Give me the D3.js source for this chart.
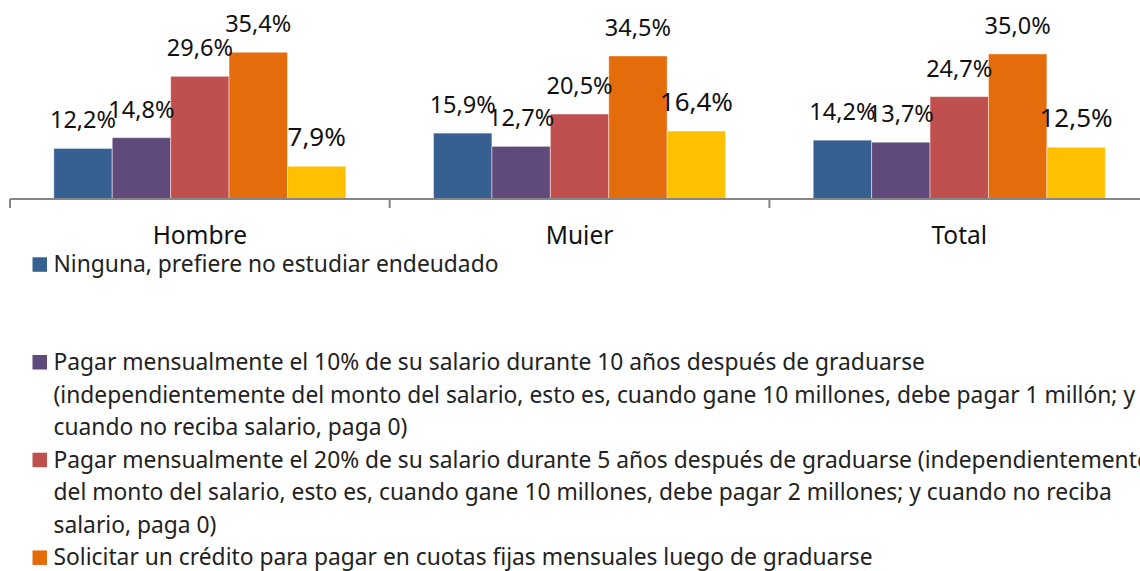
<!DOCTYPE html>
<html>
<head>
<meta charset="utf-8">
<script src="https://cdn.jsdelivr.net/npm/d3@7"></script>
<style>
  body { margin: 0; background: #fff; }
  svg { display: block; font-family: "Noto Sans", "Open Sans", sans-serif; }
</style>
</head>
<body>
<script>
// datos
var categorias = ["Hombre", "Mujer", "Total"];
var series = ["Ninguna", "Pagar10", "Pagar20", "Solicitar", "Otra"];
var ninguna   = [12.2, 15.9, 14.2];
var pagar10   = [14.8, 12.7, 13.7];
var pagar20   = [29.6, 20.5, 24.7];
var solicitar = [35.4, 34.5, 35.0];
var otra      = [7.9, 16.4, 12.5];
var colores = ["#376092", "#604a7b", "#c0504d", "#e46c0a", "#ffc000"];

// texto de la leyenda (cada entrada en sus lineas, como en el original)
var leyenda = [
  ["Ninguna, prefiere no estudiar endeudado"],
  ["Pagar mensualmente el 10% de su salario durante 10 años después de graduarse",
   "(independientemente del monto del salario, esto es, cuando gane 10 millones, debe pagar 1 millón; y",
   "cuando no reciba salario, paga 0)"],
  ["Pagar mensualmente el 20% de su salario durante 5 años después de graduarse (independientemente",
   "del monto del salario, esto es, cuando gane 10 millones, debe pagar 2 millones; y cuando no reciba",
   "salario, paga 0)"],
  ["Solicitar un crédito para pagar en cuotas fijas mensuales luego de graduarse"]
];

var valores = [ninguna, pagar10, pagar20, solicitar, otra];

var W = 1140, H = 571;
var svg = d3.select("body").append("svg").attr("width", W).attr("height", H);

// area del grafico recortada (las etiquetas de categoria salen cortadas)
svg.append("clipPath").attr("id", "corte")
  .append("rect").attr("x", 0).attr("y", 0).attr("width", W).attr("height", 245);
var g = svg.append("g").attr("clip-path", "url(#corte)");

var x0 = d3.scaleBand().domain(categorias).range([10, 10 + 3 * 379.7]);
var x1 = d3.scaleBand().domain(series).range([0, x0.bandwidth()]).paddingOuter(0.75);
var y = d3.scaleLinear().domain([0, 40]).range([199, 33.2]);

var grupos = g.selectAll("g.cat").data(categorias).enter().append("g")
  .attr("class", "cat")
  .attr("transform", function (d) { return "translate(" + x0(d) + ",0)"; });

grupos.each(function (c, ci) {
  var filas = series.map(function (s, si) { return { s: s, i: si, v: valores[si][ci] }; });
  var sel = d3.select(this);
  sel.selectAll("rect").data(filas).enter().append("rect")
    .attr("x", function (d) { return x1(d.s); })
    .attr("y", function (d) { return y(d.v); })
    .attr("width", x1.bandwidth())
    .attr("height", function (d) { return y(0) - y(d.v); })
    .attr("fill", function (d) { return colores[d.i]; })
    .attr("stroke", "rgba(255,255,255,0.45)")
    .attr("stroke-width", 1);
  sel.selectAll("text").data(filas).enter().append("text")
    .attr("x", function (d) { return x1(d.s) + x1.bandwidth() / 2; })
    .attr("y", function (d) { return y(d.v) - 20; })
    .attr("text-anchor", "middle")
    .attr("font-size", function (d) { return d.i === 4 ? 26 : 23.5; })
    .attr("fill", "#111")
    .text(function (d) { return d.v.toFixed(1).replace(".", ",") + "%"; });
});

// eje horizontal
var eje = g.append("g").attr("transform", "translate(0," + y(0) + ")");
eje.append("line")
  .attr("x1", x0.range()[0]).attr("x2", x0.range()[1])
  .attr("stroke", "#868686").attr("stroke-width", 2);
var bordes = categorias.map(function (c) { return x0(c); });
eje.selectAll("line.tick").data(bordes).enter().append("line")
  .attr("class", "tick")
  .attr("x1", function (d) { return d; }).attr("x2", function (d) { return d; })
  .attr("y1", 0).attr("y2", 9)
  .attr("stroke", "#868686").attr("stroke-width", 2);

var ejeX = d3.axisBottom(x0).tickSize(0).tickPadding(0);
var ejeG = g.append("g").attr("transform", "translate(0," + y(0) + ")").call(ejeX);
ejeG.select(".domain").remove();
ejeG.selectAll("text").attr("font-size", 24.5).attr("fill", "#111")
  .attr("font-family", "'Noto Sans', sans-serif")
  .attr("dy", null).attr("y", 45);

// leyenda
var lineaY = d3.scaleLinear().domain([0, 1]).range([272.3, 272.3 + 32.57]);
var ley = svg.append("g");
leyenda.forEach(function (lineas, i) {
  var slot = i * 3;
  ley.append("rect")
    .attr("x", 32.5).attr("y", lineaY(slot) - 15)
    .attr("width", 14.5).attr("height", 14.5)
    .attr("fill", colores[i]);
  lineas.forEach(function (t, j) {
    ley.append("text")
      .attr("x", 53.5)
      .attr("y", lineaY(slot + j))
      .attr("font-size", 22.8)
      .attr("fill", "#222")
      .text(t);
  });
});
</script>
</body>
</html>
